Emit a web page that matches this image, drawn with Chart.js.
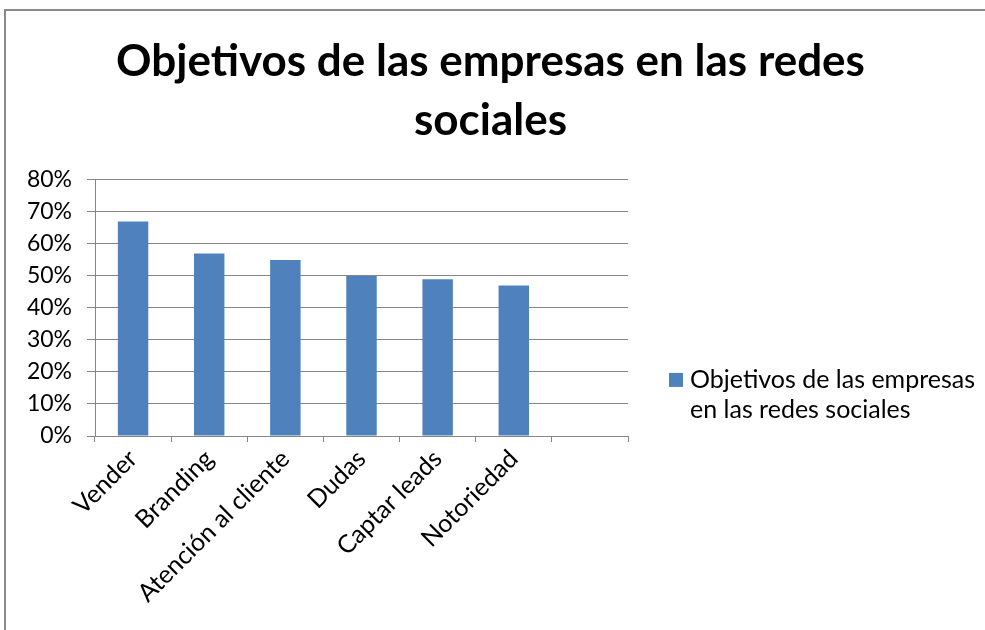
<!DOCTYPE html>
<html>
<head>
<meta charset="utf-8">
<script src="https://cdn.jsdelivr.net/npm/chart.js@4"></script>
<style>
  html, body { margin: 0; padding: 0; background: #fff; }
  #wrap { width: 985px; height: 630px; position: relative; }
</style>
</head>
<body>
<div id="wrap"><canvas id="chart" width="985" height="630"></canvas></div>
<script>
var categories = ['Vender', 'Branding', 'Atención al cliente', 'Dudas', 'Captar leads', 'Notoriedad', ''];
var values = [67, 57, 55, 50, 49, 47, null];
var seriesName = 'Objetivos de las empresas en las redes sociales';
var titleLines = ['Objetivos de las empresas en las redes', 'sociales'];
var yTicks = [0, 10, 20, 30, 40, 50, 60, 70, 80];

var FONT = 'Lato';
var GRID = '#868686';
var BAR = '#4F81BD';

// outer frame of the chart object (runs off the right and bottom edges)
var framePlugin = {
    id: 'frame',
    beforeDraw: function(chart) {
        var ctx = chart.ctx;
        ctx.save();
        ctx.strokeStyle = '#8a8a8a';
        ctx.lineWidth = 2;
        ctx.beginPath();
        ctx.moveTo(5, chart.height);
        ctx.lineTo(5, 10);
        ctx.lineTo(chart.width, 10);
        ctx.stroke();
        ctx.restore();
    }
};

// legend on the right with wrapped text, reserved as a layout box
var sideLegend = {
    id: 'sideLegend',
    beforeInit: function(chart) {
        var box = {
            position: 'right',
            weight: 0,
            fullSize: false,
            options: {},
            left: 0, top: 0, right: 0, bottom: 0, width: 0, height: 0,
            isHorizontal: function() { return false; },
            update: function(maxWidth, maxHeight) {
                this.width = 343;
                this.height = maxHeight;
            },
            draw: function() {
                var ctx = chart.ctx;
                var ds = chart.data.datasets[0];
                ctx.save();
                ctx.font = '25px ' + FONT;
                ctx.fillStyle = ds.backgroundColor;
                ctx.fillRect(this.left + 41, this.top + 193, 14, 14);

                // wrap the series name into lines
                var words = ds.label.split(' ');
                var lines = [];
                var cur = '';
                for (var i = 0; i < words.length; i++) {
                    var test = cur ? cur + ' ' + words[i] : words[i];
                    if (ctx.measureText(test).width > 290 && cur) {
                        lines.push(cur);
                        cur = words[i];
                    } else {
                        cur = test;
                    }
                }
                if (cur) lines.push(cur);

                ctx.fillStyle = '#000';
                ctx.textBaseline = 'middle';
                ctx.textAlign = 'left';
                for (var j = 0; j < lines.length; j++) {
                    ctx.fillText(lines[j], this.left + 62, this.top + 200 + j * 30);
                }
                ctx.restore();
            }
        };
        Chart.layouts.addBox(chart, box);
    }
};

new Chart(document.getElementById('chart').getContext('2d'), {
    type: 'bar',
    data: {
        labels: categories,
        datasets: [{
            label: seriesName,
            data: values,
            backgroundColor: BAR,
            borderWidth: 0,
            barPercentage: 0.4,
            categoryPercentage: 1.0
        }]
    },
    plugins: [framePlugin, sideLegend],
    options: {
        responsive: false,
        animation: false,
        layout: { padding: { top: 10, left: 10, right: 14, bottom: 0 } },
        plugins: {
            legend: { display: false },
            tooltip: { enabled: false },
            title: {
                display: true,
                text: titleLines,
                color: '#000',
                font: { family: FONT, size: 44, weight: 'bold', lineHeight: 1.34 },
                padding: { top: 22, bottom: 30 }
            }
        },
        scales: {
            x: {
                afterFit: function(scale) { scale.height = 194; },
                grid: {
                    offset: true,
                    drawOnChartArea: false,
                    drawTicks: true,
                    tickLength: 6,
                    color: GRID
                },
                border: { color: GRID, width: 1 },
                ticks: {
                    autoSkip: false,
                    minRotation: 45,
                    maxRotation: 45,
                    padding: 2,
                    color: '#000',
                    font: { family: FONT, size: 25 }
                }
            },
            y: {
                min: 0,
                max: yTicks[yTicks.length - 1],
                afterFit: function(scale) { scale.width = 85; },
                afterBuildTicks: function(scale) {
                    scale.ticks = yTicks.map(function(v) { return { value: v }; });
                },
                grid: { color: GRID, tickLength: 8, lineWidth: 1 },
                border: { color: GRID, width: 1 },
                ticks: {
                    padding: 15,
                    color: '#000',
                    font: { family: FONT, size: 23 },
                    callback: function(v) { return v + '%'; }
                }
            }
        }
    }
});
</script>
</body>
</html>
